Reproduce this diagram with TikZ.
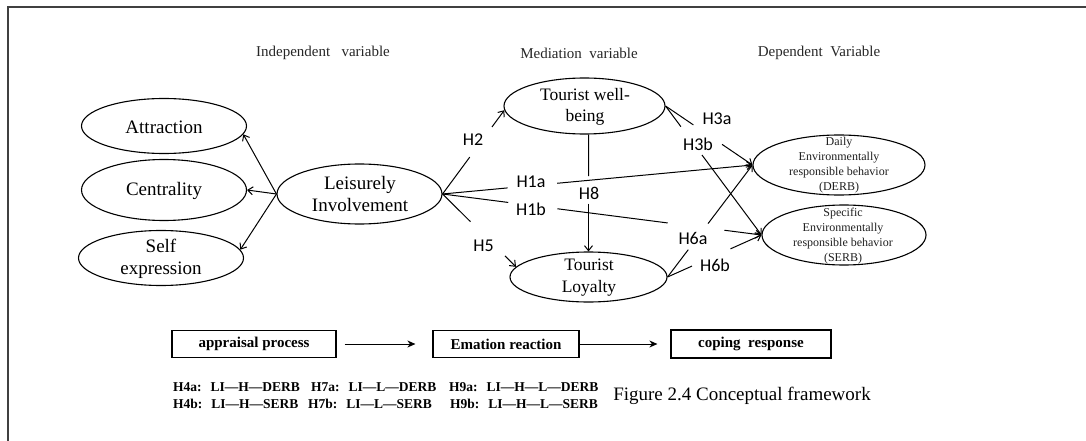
\documentclass[tikz,border=0pt]{standalone}
\usepackage{fontspec}
\setmainfont{Liberation Serif}
\newfontfamily\hfont{Carlito}
\usetikzlibrary{arrows.meta,shapes.geometric,calc}
\newcommand\gapdraw[4]{%
  \draw[conn] (#1) -- ($(#1)!#3!(#2)$);
  \draw[conn,arr] ($(#1)!#4!(#2)$) -- (#2);}
\begin{document}
\begin{tikzpicture}[x=1pt,y=-1pt,
  ell/.style={draw, ellipse, line width=1.1pt, inner sep=0pt},
  conn/.style={line width=1pt},
  arr/.style={-{Straight Barb[length=5pt,width=8pt,line width=1pt]}},
  barr/.style={-{Stealth[length=8pt,width=7pt,inset=2.5pt]}},
  hl/.style={font=\hfont\fontsize{18}{20}\selectfont, inner sep=0pt},
  big/.style={font=\fontsize{19}{22.5}\selectfont, align=center, inner sep=0pt},
  mid/.style={font=\fontsize{17.5}{21.5}\selectfont, align=center, inner sep=0pt},
  small/.style={font=\fontsize{12}{15}\selectfont, align=center, inner sep=0pt, text=black!88},
  head/.style={font=\fontsize{15}{18}\selectfont, inner sep=0pt, text=black!85},
  stage/.style={draw, line width=1.2pt, inner sep=0pt, font=\bfseries\fontsize{15}{18}\selectfont},
  hyp/.style={font=\bfseries\fontsize{13.5}{15}\selectfont, inner sep=0pt, anchor=west},
]
\useasboundingbox (0,0) rectangle (1086,441);
\draw[line width=1.6pt, black!75] (1086,7) -- (8,7) -- (8,441);

% headers
\node[head] (h1) at (323,53) {Independent\ \ \ variable};
\node[head] (h2) at (579,53) {Mediation\ \ variable};
\node[head] (h3) at (819,53) {Dependent\ \ Variable};

% ellipses
\node[ell, minimum width=165, minimum height=55] (AT) at (164,126) {};
\node[big] (ATt) at (164,127) {Attraction};
\node[ell, minimum width=165, minimum height=61] (CE) at (164,190) {};
\node[big] (CEt) at (164,191) {Centrality};
\node[ell, minimum width=165, minimum height=55] (SE) at (161,258) {};
\node[big] (SEt) at (161,259) {Self\\expression};
\node[ell, minimum width=165, minimum height=60] (LI) at (359.5,194) {};
\node[big] (LIt) at (360,194) {Leisurely\\Involvement};
\node[ell, minimum width=161, minimum height=56] (TW) at (584.5,106) {};
\node[mid] (TWt) at (585,107) {Tourist well-\\being};
\node[ell, minimum width=157, minimum height=50] (TL) at (588.5,277) {};
\node[mid] (TLt) at (589,277.5) {Tourist\\Loyalty};
\node[ell, minimum width=172, minimum height=60] (DE) at (839,165) {};
\node[small] (DEt) at (839,165.5) {Daily\\Environmentally\\responsible behavior\\(DERB)};
\node[ell, minimum width=164, minimum height=60] (SR) at (844,235) {};
\node[small] (SRt) at (843,236.5) {Specific\\Environmentally\\responsible behavior\\(SERB)};

% dimension arrows
\draw[conn,arr] (LI.west) -- (AT.-6);
\draw[conn,arr] (LI.west) -- (CE.east);
\draw[conn,arr] (LI.west) -- (SE.6);

% hypotheses connectors
\gapdraw{LI.east}{TW.183}{0.44}{0.80}
\gapdraw{LI.east}{DE.west}{0.21}{0.37}
\draw[conn] (LI.east) -- ($(LI.east)!0.206!(SR.west)$);
\draw[conn] ($(LI.east)!0.36!(SR.west)$) -- ($(LI.east)!0.706!(SR.west)$);
\draw[conn,arr] ($(LI.east)!0.884!(SR.west)$) -- (SR.west);
\gapdraw{LI.east}{TL.172}{0.38}{0.85}
\coordinate (H8s) at (TL.north |- TW.south);
\gapdraw{H8s}{TL.north}{0.356}{0.59}
\gapdraw{TW.east}{DE.west}{0.32}{0.65}
\gapdraw{TW.east}{SR.west}{0.16}{0.38}
\gapdraw{TL.east}{DE.west}{0.244}{0.477}
\gapdraw{TL.east}{SR.west}{0.26}{0.67}

% labels
\node[hl] (lH2) at (473,140) {H2};
\node[hl] (lH1a) at (531,182) {H1a};
\node[hl] (lH1b) at (531,209) {H1b};
\node[hl] (lH5) at (483.5,246) {H5};
\node[hl] (lH8) at (589,193.5) {H8};
\node[hl] (lH3a) at (717,119) {H3a};
\node[hl] (lH3b) at (698,144) {H3b};
\node[hl] (lH6a) at (693,238) {H6a};
\node[hl] (lH6b) at (715,265) {H6b};

% stages
\node[stage, minimum width=164, minimum height=27] (AP) at (254,344) {appraisal process};
\node[stage, minimum width=146, minimum height=27] (EM) at (506,344) {Emation reaction};
\node[stage, minimum width=160, minimum height=28] (CO) at (751,344) {coping\ \ response};
\draw[conn,barr] ([xshift=8pt]AP.east) -- ([xshift=-17pt]EM.west);
\draw[conn,barr] (EM.east) -- ([xshift=-13pt]CO.west);

% hypotheses list
\node[hyp] (h4a) at (173,387) {H4a:\hspace{9pt}LI---H---DERB};
\node[hyp] (h7a) at (311,387) {H7a:\hspace{9pt}LI---L---DERB};
\node[hyp] (h9a) at (449,387) {H9a:\hspace{9pt}LI---H---L---DERB};
\node[hyp] (h4b) at (173,404) {H4b:\hspace{9pt}LI---H---SERB};
\node[hyp] (h7b) at (308,404) {H7b:\hspace{9pt}LI---L---SERB};
\node[hyp] (h9b) at (450,404) {H9b:\hspace{9pt}LI---H---L---SERB};
\node[font=\fontsize{19}{22}\selectfont, inner sep=0pt] (cap) at (742,396) {Figure 2.4 Conceptual framework};
\end{tikzpicture}
\end{document}
